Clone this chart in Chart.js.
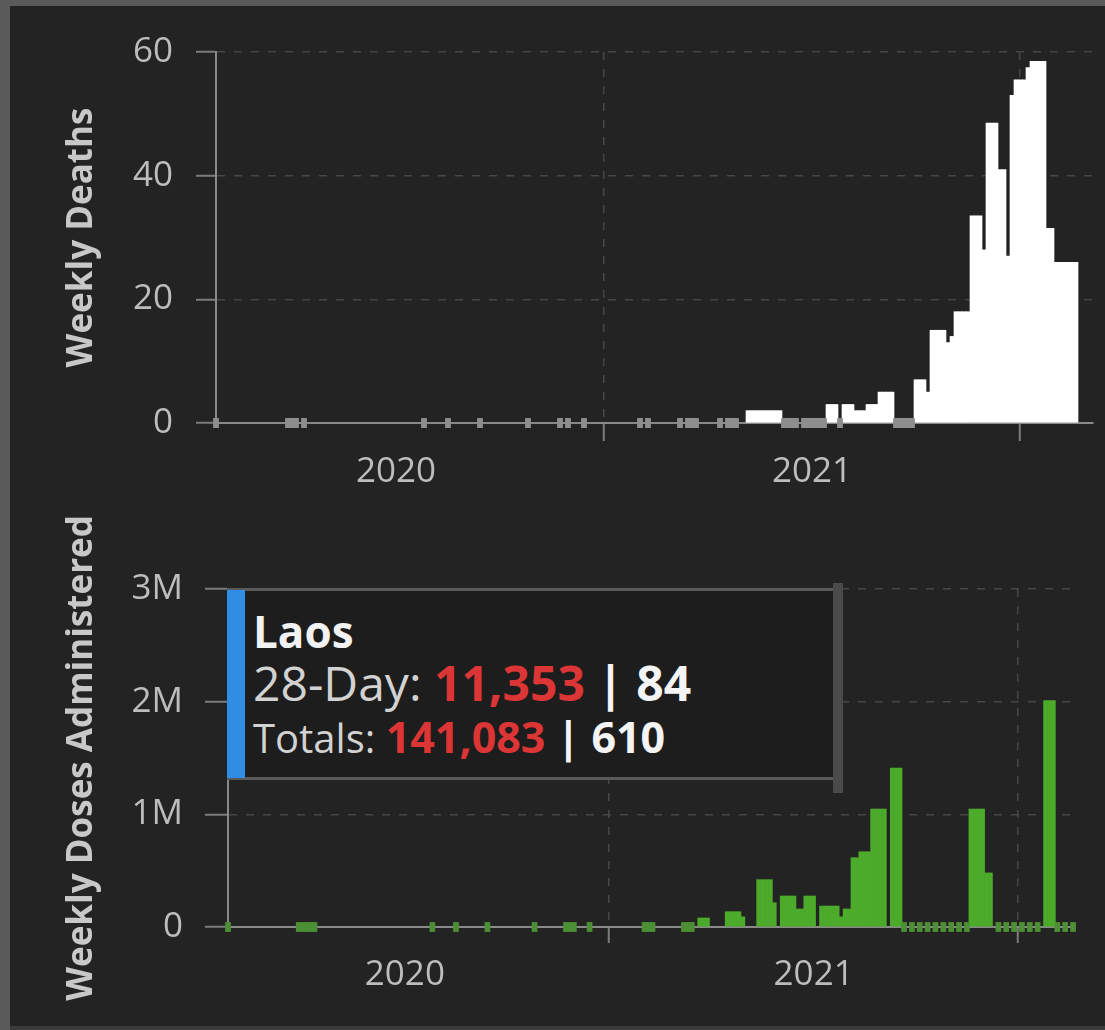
<!DOCTYPE html>
<html>
<head>
<meta charset="utf-8">
<script src="https://cdn.jsdelivr.net/npm/chart.js@4.4.1/dist/chart.umd.min.js"></script>
<style>
html,body{margin:0;padding:0;}
body{width:1105px;height:1030px;position:relative;background:#5a5a5a;overflow:hidden;font-family:'Open Sans',sans-serif;}
#frame{position:absolute;left:10px;top:6px;width:1095px;height:1020px;background:#232323;}
#bottomEdge{position:absolute;left:10px;top:1026px;width:1095px;height:4px;background:#3b3b3b;}
canvas{position:absolute;left:0;}
#deaths{top:0;}
#doses{top:500px;}
#tipBox{position:absolute;left:227px;top:588px;width:606px;height:192px;box-sizing:border-box;background:#1d1d1d;border-top:3px solid #5a5a5a;border-bottom:3px solid #5a5a5a;}
#tipBlue{position:absolute;left:227px;top:590px;width:18px;height:188px;background:#2f8de4;}
#tipRight{position:absolute;left:833px;top:583px;width:10px;height:210px;background:#4a4a4a;}
.tl{position:absolute;left:253px;white-space:nowrap;}
#t1{top:609px;font-size:44px;line-height:44px;font-weight:700;color:#f2f2f2;}
#t2{top:659px;font-size:48px;line-height:48px;}
#t3{top:715px;font-size:43px;line-height:43px;}
#t3 .g{font-size:40px;}
.g{color:#d2d2d2;font-weight:400;}
.r{color:#dc3535;font-weight:700;}
.w{color:#f4f4f4;font-weight:700;}
</style>
</head>
<body>
<div id="frame"></div>
<div id="bottomEdge"></div>
<canvas id="deaths" width="1105" height="500"></canvas>
<canvas id="doses" width="1105" height="530"></canvas>
<div id="tipBox"></div>
<div id="tipBlue"></div>
<div id="tipRight"></div>
<div class="tl" id="t1">Laos</div>
<div class="tl" id="t2"><span class="g">28-Day: </span><span class="r">11,353</span><span class="w"> | 84</span></div>
<div class="tl" id="t3"><span class="g">Totals: </span><span class="r">141,083</span><span class="w"> | 610</span></div>
<script>
// ---- data (x = half-week index since late Jan 2020) ----
const deathHalfWeek = [133,134,135,136,137,138,139,140,141,
  153,154,155,157,158,159,160,161,162,163,164,165,166,167,168,169,
  175,176,177,178,179,180,181,182,183,184,185,186,187,188,189,190,191,192,
  193,194,195,196,197,198,199,200,201,202,203,204,205,206,207,208,209,
  210,211,212,213,214,215];
const deathValue = [2,2,2,2,2,2,2,2,2,
  3,3,3,3,3,3,2,2,2,3,3,3,5,5,5,5,
  7,7,7,5,15,15,15,15,13,14,18,18,18,18,33.5,33.5,33.5,28,
  48.5,48.5,48.5,41,41,27,53,55.5,55.5,55.5,57.5,58.5,58.5,58.5,58.5,31.5,31.5,
  26,26,26,26,26,26];
const deathZeroHalfWeek = [0,18,19,20,22,52,58,66,78,86,88,92,106,108,116,118,119,120,
  126,128,129,130,142,143,144,145,147,148,149,150,151,152,156,170,171,172,173,174];

const doseHalfWeek = [120,121,122,127,128,129,130,131,135,136,137,138,139,
  141,142,143,144,145,146,147,148,149,151,152,153,154,155,156,157,158,
  159,160,161,162,163,164,165,166,167,169,170,171,
  189,190,191,192,193,194,208,209,210];
const doseValue = [80000,80000,80000,136000,136000,136000,136000,90000,420000,420000,420000,420000,215000,
  275000,275000,275000,275000,160000,160000,275000,275000,275000,186000,186000,186000,186000,186000,90000,160000,160000,
  615000,615000,668000,668000,668000,1047000,1047000,1047000,1047000,1410000,1410000,1410000,
  1047000,1047000,1047000,1047000,480000,480000,2010000,2010000,2010000];
const doseZeroHalfWeek = [0,18,19,20,21,22,52,58,66,78,86,87,88,92,106,107,108,116,117,118,
  172,174,176,178,180,182,184,186,188,
  196,198,200,202,204,206,211,213,215];

const yearBoundaryTicks = [97, 201];
const yearLabelTicks = [45, 149];
const yearLabels = ['2020', '2021'];
const deathTicks = [0, 20, 40, 60];
const deathTickLabels = ['0', '20', '40', '60'];
const doseTicks = [0, 1000000, 2000000, 3000000];
const doseTickLabels = ['0', '1M', '2M', '3M'];

// ---- styles ----
const FONT = "'Open Sans', sans-serif";
const TICK_COLOR = '#bdbdbd';
const TITLE_COLOR = '#c8c8c8';
const GRID_COLOR = '#474747';
const TICKLINE = '#7c7c7c';
const AXIS = '#8a8a8a';
const CLEAR = 'rgba(0,0,0,0)';
Chart.defaults.font.family = FONT;

function buildChart(id, cfg) {
  const boundary = new Set(yearBoundaryTicks);
  const bars = cfg.idx.map((x, i) => ({x: x, y: cfg.vals[i]}));
  const h = cfg.yMax * cfg.markFrac;
  const marks = cfg.zeros.map(x => ({x: x, y: [-h, h]}));
  return new Chart(document.getElementById(id), {
    type: 'bar',
    data: {
      datasets: [
        {data: marks, backgroundColor: cfg.markColor, grouped: false, barPercentage: 1.45, categoryPercentage: 1, borderWidth: 0, clip: false},
        {data: bars, backgroundColor: cfg.barColor, grouped: false, barPercentage: 1, categoryPercentage: 1, borderWidth: 0, clip: false}
      ]
    },
    options: {
      responsive: false, animation: false, events: [],
      layout: {padding: cfg.padding},
      plugins: {legend: {display: false}, tooltip: {enabled: false}},
      scales: {
        x: {
          type: 'linear', min: 0, max: cfg.xMax, offset: false,
          afterBuildTicks: s => { s.ticks = yearLabelTicks.concat(yearBoundaryTicks).sort((a, b) => a - b).map(v => ({value: v})); },
          afterFit: s => { s.height = cfg.xHeight; },
          ticks: {autoSkip: false, maxRotation: 0, minRotation: 0, padding: cfg.xPad, color: TICK_COLOR, font: {size: 35},
            callback: v => { const k = yearLabelTicks.indexOf(v); return k >= 0 ? yearLabels[k] : ''; }},
          grid: {offset: false, lineWidth: 1.5, tickLength: cfg.xTickLen, tickWidth: 2,
            color: c => (c.tick && boundary.has(c.tick.value)) ? GRID_COLOR : CLEAR,
            tickColor: c => (c.tick && boundary.has(c.tick.value)) ? TICKLINE : CLEAR},
          border: {display: true, color: AXIS, width: 2, dash: [8, 9]}
        },
        y: {
          type: 'linear', min: 0, max: cfg.yMax,
          afterBuildTicks: s => { s.ticks = cfg.yTicks.map(v => ({value: v})); },
          afterFit: s => { s.width = cfg.yWidth; },
          ticks: {padding: cfg.yPad, color: TICK_COLOR, font: {size: 35},
            callback: v => { const k = cfg.yTicks.indexOf(v); return k >= 0 ? cfg.yLabels[k] : ''; }},
          grid: {color: GRID_COLOR, lineWidth: 1.5, tickLength: cfg.yTickLen, tickWidth: 2, tickColor: TICKLINE},
          border: {display: true, color: AXIS, width: 2, dash: [8, 9]},
          title: {display: true, text: cfg.title, color: TITLE_COLOR, font: {size: 35, weight: 'bold'}, padding: {top: 21, bottom: 0}}
        }
      }
    }
  });
}

buildChart('deaths', {
  idx: deathHalfWeek, vals: deathValue, zeros: deathZeroHalfWeek,
  barColor: '#ffffff', markColor: '#8e8e8e', markFrac: 0.0135,
  yMax: 60, yTicks: deathTicks, yLabels: deathTickLabels, title: 'Weekly Deaths',
  padding: {left: 40, top: 52, right: 12, bottom: 0},
  xMax: 219.25, xHeight: 77, xTickLen: 18, xPad: 10,
  yWidth: 176, yTickLen: 20, yPad: 23
});

buildChart('doses', {
  idx: doseHalfWeek, vals: doseValue, zeros: doseZeroHalfWeek,
  barColor: '#4dab2b', markColor: '#4c8f34', markFrac: 0.0145,
  yMax: 3000000, yTicks: doseTicks, yLabels: doseTickLabels, title: 'Weekly Doses Administered',
  padding: {left: 40, top: 89, right: 30, bottom: 0},
  xMax: 215.5, xHeight: 103, xTickLen: 16, xPad: 11,
  yWidth: 188, yTickLen: 23, yPad: 22
});
</script>
</body>
</html>
